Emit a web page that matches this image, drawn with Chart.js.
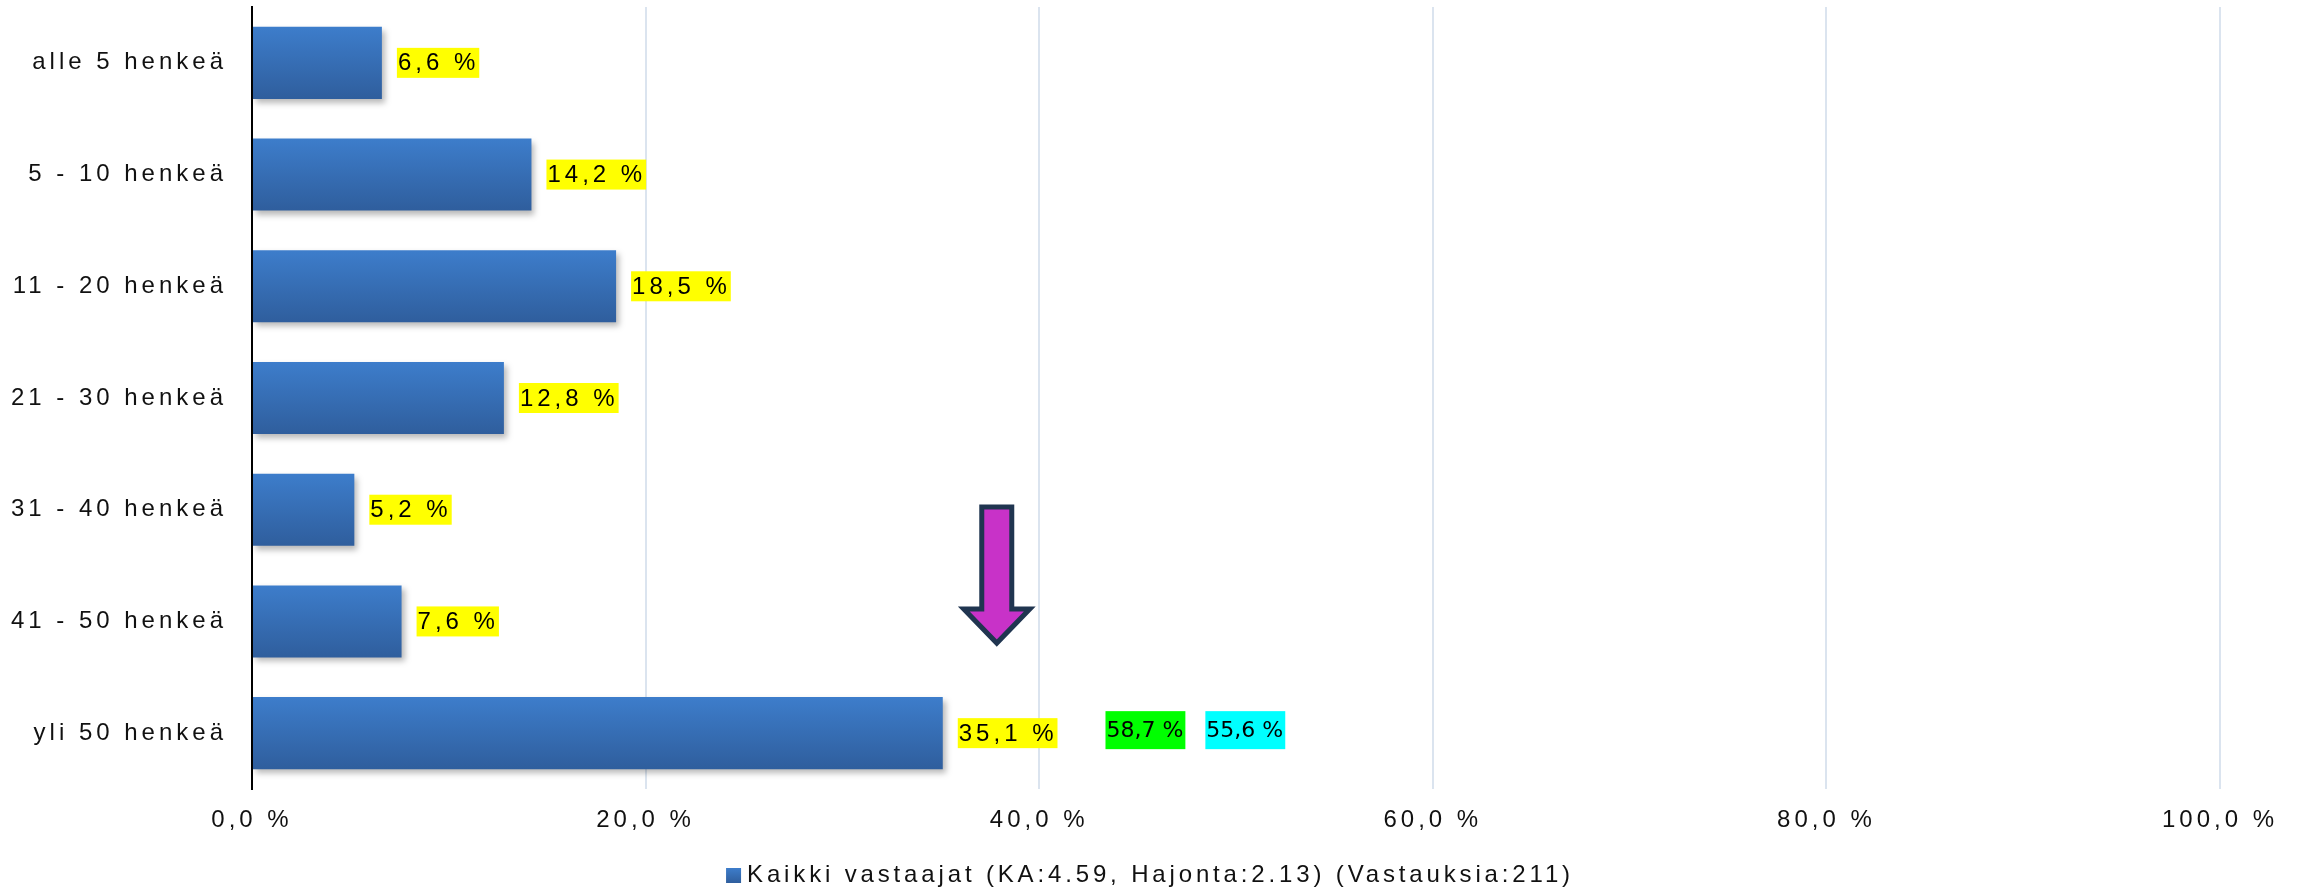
<!DOCTYPE html>
<html>
<head>
<meta charset="utf-8">
<script src="https://cdn.jsdelivr.net/npm/chart.js@4"></script>
<style>
  html, body { margin: 0; padding: 0; background: #ffffff; }
  canvas { display: block; }
</style>
</head>
<body>
<canvas id="chart" width="2308" height="891"></canvas>
<script>
// Data
const categories = ['alle 5 henkeä', '5 - 10 henkeä', '11 - 20 henkeä', '21 - 30 henkeä', '31 - 40 henkeä', '41 - 50 henkeä', 'yli 50 henkeä'];
const values = [6.6, 14.2, 18.5, 12.8, 5.2, 7.6, 35.1];
const seriesLabel = 'Kaikki vastaajat (KA:4.59, Hajonta:2.13) (Vastauksia:211)';
const xTicks = [0, 20, 40, 60, 80, 100];
// comparison values shown next to the last bar
const compareValues = [58.7, 55.6];
const compareColors = ['#00ff00', '#00ffff'];

const SPACING = '4px';
const FONT = 'Liberation Sans, Arial, sans-serif';

function fmt(v) {
    return v.toFixed(1).replace('.', ',') + ' %';
}

// letter spacing for all chart texts
const spacingPlugin = {
    id: 'spacing',
    beforeLayout(chart) { chart.ctx.letterSpacing = SPACING; },
    beforeDraw(chart) { chart.ctx.letterSpacing = SPACING; }
};

// shadow under bars + value labels
const barPlugin = {
    id: 'barStuff',
    beforeDatasetsDraw(chart) {
        const ctx = chart.ctx;
        ctx.save();
        ctx.shadowColor = 'rgba(0,0,0,0.28)';
        ctx.shadowBlur = 6;
        ctx.shadowOffsetX = 3;
        ctx.shadowOffsetY = 4;
    },
    afterDatasetsDraw(chart) {
        const ctx = chart.ctx;
        ctx.restore();
        ctx.save();
        ctx.letterSpacing = SPACING;
        ctx.font = '24px ' + FONT;
        ctx.textBaseline = 'middle';
        ctx.textAlign = 'left';
        const meta = chart.getDatasetMeta(0);
        meta.data.forEach((bar, i) => {
            const txt = fmt(values[i]);
            const w = ctx.measureText(txt).width + 1;
            const x = bar.x + 15;
            ctx.fillStyle = '#ffff00';
            ctx.fillRect(x, bar.y - 15, w, 30);
            ctx.fillStyle = '#000000';
            ctx.fillText(txt, x + 1, bar.y + 1);
        });

        // comparison boxes after the last label
        const last = meta.data[meta.data.length - 1];
        const lastTxt = fmt(values[values.length - 1]);
        let x = last.x + 15 + ctx.measureText(lastTxt).width + 1 + 48;
        ctx.letterSpacing = '0px';
        ctx.font = '22px DejaVu Sans, sans-serif';
        compareValues.forEach((v, i) => {
            const txt = v.toFixed(1).replace('.', ',') + ' %';
            const w = ctx.measureText(txt).width + 3;
            ctx.fillStyle = compareColors[i];
            ctx.fillRect(x, last.y - 22, w, 38);
            ctx.fillStyle = '#000000';
            ctx.fillText(txt, x + 1, last.y - 2);
            x += w + 20;
        });

        // arrow pointing at the last bar
        const cx = last.x + 54;
        const tip = last.y - last.height / 2 - 54;
        ctx.beginPath();
        ctx.moveTo(cx - 15, tip - 136);
        ctx.lineTo(cx + 15, tip - 136);
        ctx.lineTo(cx + 15, tip - 34);
        ctx.lineTo(cx + 33, tip - 34);
        ctx.lineTo(cx, tip);
        ctx.lineTo(cx - 33, tip - 34);
        ctx.lineTo(cx - 15, tip - 34);
        ctx.closePath();
        ctx.fillStyle = '#c832c8';
        ctx.fill();
        ctx.lineWidth = 5;
        ctx.lineJoin = 'miter';
        ctx.strokeStyle = '#203550';
        ctx.stroke();
        ctx.restore();
    },
    afterDraw(chart) {
        // legend
        const ctx = chart.ctx;
        ctx.save();
        ctx.letterSpacing = '3.85px';
        ctx.font = '24px ' + FONT;
        ctx.textBaseline = 'middle';
        ctx.textAlign = 'left';
        const w = ctx.measureText(seriesLabel).width;
        const total = 15 + 6 + w;
        const x0 = (chart.width - total) / 2 - 4;
        const y = 875;
        const g = ctx.createLinearGradient(0, y - 7, 0, y + 8);
        g.addColorStop(0, '#3d7dcb');
        g.addColorStop(1, '#2f5e9d');
        ctx.fillStyle = g;
        ctx.fillRect(x0, y - 7, 15, 15);
        ctx.fillStyle = '#111111';
        ctx.fillText(seriesLabel, x0 + 21, y);
        ctx.restore();
    }
};

function barGradient(context) {
    const chart = context.chart;
    const area = chart.chartArea;
    if (!area) return '#3569b0';
    const yScale = chart.scales.y;
    const y = yScale.getPixelForValue(context.dataIndex);
    const h = 36;
    const g = chart.ctx.createLinearGradient(0, y - h, 0, y + h);
    g.addColorStop(0, '#3d7dcb');
    g.addColorStop(1, '#2f5e9d');
    return g;
}

Chart.defaults.font.family = FONT;
Chart.defaults.font.size = 24;
Chart.defaults.color = '#111111';

new Chart(document.getElementById('chart'), {
    type: 'bar',
    data: {
        labels: categories,
        datasets: [{
            label: seriesLabel,
            data: values,
            backgroundColor: barGradient,
            borderWidth: 0,
            barPercentage: 0.645,
            categoryPercentage: 1
        }]
    },
    options: {
        indexAxis: 'y',
        responsive: false,
        animation: false,
        devicePixelRatio: 1,
        layout: { padding: { top: 7, right: 88, left: 0, bottom: 0 } },
        plugins: {
            legend: { display: false },
            tooltip: { enabled: false }
        },
        scales: {
            x: {
                min: 0,
                max: 100,
                afterBuildTicks(scale) {
                    scale.ticks = xTicks.map(v => ({ value: v }));
                },
                afterFit(scale) {
                    scale.height = 102;
                    scale.paddingLeft = 0;
                    scale.paddingRight = 0;
                },
                grid: {
                    color: ctx => ctx.tick && ctx.tick.value === 0 ? 'rgba(0,0,0,0)' : '#dbe4ef',
                    lineWidth: 2,
                    drawTicks: false
                },
                border: { display: false },
                ticks: {
                    padding: 17,
                    color: '#111111',
                    font: { size: 24 },
                    maxRotation: 0,
                    callback: v => fmt(v)
                }
            },
            y: {
                afterFit(scale) {
                    scale.width = 252;
                    scale.paddingTop = 0;
                    scale.paddingBottom = 0;
                },
                grid: { display: false, drawTicks: false },
                border: { display: true, color: '#000000', width: 2 },
                ticks: {
                    padding: 25,
                    color: '#111111',
                    font: { size: 24 }
                }
            }
        }
    },
    plugins: [spacingPlugin, barPlugin]
});
</script>
</body>
</html>
